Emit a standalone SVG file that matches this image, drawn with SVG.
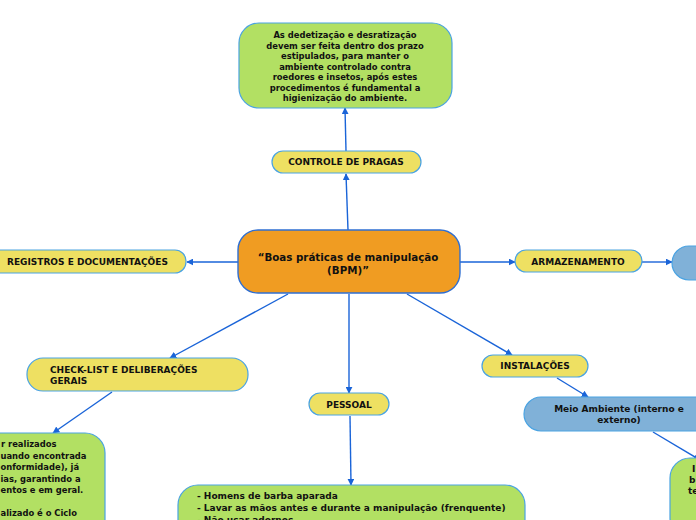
<svg xmlns="http://www.w3.org/2000/svg" width="696" height="520" viewBox="0 0 696 520">
<defs>
<marker id="arr" viewBox="0 0 10 10" refX="9" refY="5" markerWidth="7" markerHeight="7" markerUnits="userSpaceOnUse" orient="auto">
<path d="M0,0 L10,5 L0,10 z" fill="#1a64d8"/>
</marker>
<style>
.t{font-family:"DejaVu Sans",Verdana,sans-serif;font-weight:bold;font-size:9px;fill:#111;}
.c{text-anchor:middle;}
.main{font-size:10.3px;}
.s{font-size:8.4px;}
.g{fill:#b2e063;stroke:#4aa3e2;stroke-width:1.2;}
.y{fill:#eee062;stroke:#4aa3e2;stroke-width:1.2;}
.b{fill:#80b1d8;stroke:#4aa3e2;stroke-width:1.2;}
.o{fill:#f09c22;stroke:#2f6fd2;stroke-width:1.4;}
.ln{stroke:#1a64d8;stroke-width:1.4;fill:none;marker-end:url(#arr);}
</style>
</defs>
<rect width="696" height="520" fill="#ffffff"/>
<g id="connectors">
<line class="ln" x1="348" y1="230" x2="346" y2="174"/>
<line class="ln" x1="346" y1="151" x2="345" y2="108"/>
<line class="ln" x1="238" y1="262" x2="187" y2="262"/>
<line class="ln" x1="460" y1="262" x2="515" y2="262"/>
<line class="ln" x1="642" y1="262" x2="672" y2="262"/>
<line class="ln" x1="288" y1="294" x2="170" y2="358"/>
<line class="ln" x1="349" y1="294" x2="349" y2="393"/>
<line class="ln" x1="407" y1="294" x2="512" y2="355"/>
<line class="ln" x1="557" y1="378" x2="588" y2="397"/>
<line class="ln" x1="112" y1="392" x2="53" y2="433"/>
<line class="ln" x1="350" y1="416" x2="351" y2="485"/>
<line class="ln" x1="653" y1="432" x2="700" y2="460"/>
</g>
<g id="node-top">
<rect class="g" x="239" y="23" width="213" height="85" rx="20"/>
<text class="t c s" x="345" y="38">As dedetização e desratização</text>
<text class="t c s" x="345" y="48.5">devem ser feita dentro dos prazo</text>
<text class="t c s" x="345" y="59">estipulados, para manter o</text>
<text class="t c s" x="345" y="69.5">ambiente controlado contra</text>
<text class="t c s" x="345" y="80">roedores e insetos, após estes</text>
<text class="t c s" x="345" y="90.5">procedimentos é fundamental a</text>
<text class="t c s" x="345" y="101">higienização do ambiente.</text>
</g>
<g id="node-pragas">
<rect class="y" x="272" y="151" width="149" height="22" rx="11"/>
<text class="t c" x="346" y="165">CONTROLE DE PRAGAS</text>
</g>
<g id="node-central">
<rect class="o" x="238" y="230" width="222" height="63" rx="20"/>
<text class="t c main" x="348" y="261">“Boas práticas de manipulação</text>
<text class="t c main" x="348" y="274">(BPM)”</text>
</g>
<g id="node-registros">
<rect class="y" x="-12" y="250" width="198" height="23" rx="11"/>
<text class="t" x="7" y="265">REGISTROS E DOCUMENTAÇÕES</text>
</g>
<g id="node-armazenamento">
<rect class="y" x="515" y="250" width="127" height="22" rx="11"/>
<text class="t c" x="578" y="265">ARMAZENAMENTO</text>
</g>
<g id="node-right-blue">
<rect class="b" x="672" y="246" width="60" height="34" rx="17"/>
</g>
<g id="node-checklist">
<rect class="y" x="27" y="358" width="221" height="33" rx="16"/>
<text class="t" x="50" y="373">CHECK-LIST E DELIBERAÇÕES</text>
<text class="t" x="50" y="384">GERAIS</text>
</g>
<g id="node-pessoal">
<rect class="y" x="309" y="393" width="80" height="22" rx="11"/>
<text class="t c" x="349" y="408">PESSOAL</text>
</g>
<g id="node-instalacoes">
<rect class="y" x="482" y="355" width="106" height="22" rx="11"/>
<text class="t c" x="535" y="369">INSTALAÇÕES</text>
</g>
<g id="node-meio">
<rect class="b" x="524" y="397" width="190" height="34" rx="17"/>
<text class="t c" x="619" y="412">Meio Ambiente (interno e</text>
<text class="t c" x="619" y="423">externo)</text>
</g>
<g id="node-checklist-detail">
<rect class="g" x="-140" y="433" width="245" height="110" rx="20"/>
<text class="t s" x="1" y="447">r realizados</text>
<text class="t s" x="0.5" y="459">uando encontrada</text>
<text class="t s" x="0.5" y="470">onformidade), já</text>
<text class="t s" x="0.5" y="482">ias, garantindo a</text>
<text class="t s" x="0.5" y="493">entos e em geral.</text>
<text class="t s" x="0.5" y="516">alizado é o Ciclo</text>
<text class="t s" x="0.5" y="528">c), auxiliando</text>
</g>
<g id="node-pessoal-detail">
<rect class="g" x="178" y="485" width="347" height="60" rx="20"/>
<text class="t" x="197" y="499">- Homens de barba aparada</text>
<text class="t" x="197" y="511">- Lavar as mãos antes e durante a manipulação (frenquente)</text>
<text class="t" x="197" y="523">- Não usar adornos</text>
</g>
<g id="node-meio-detail">
<rect class="g" x="670" y="458" width="80" height="80" rx="20"/>
<text class="t" x="692" y="472">I</text>
<text class="t" x="689" y="483">b</text>
<text class="t" x="688" y="494">te</text>
</g>
</svg>
